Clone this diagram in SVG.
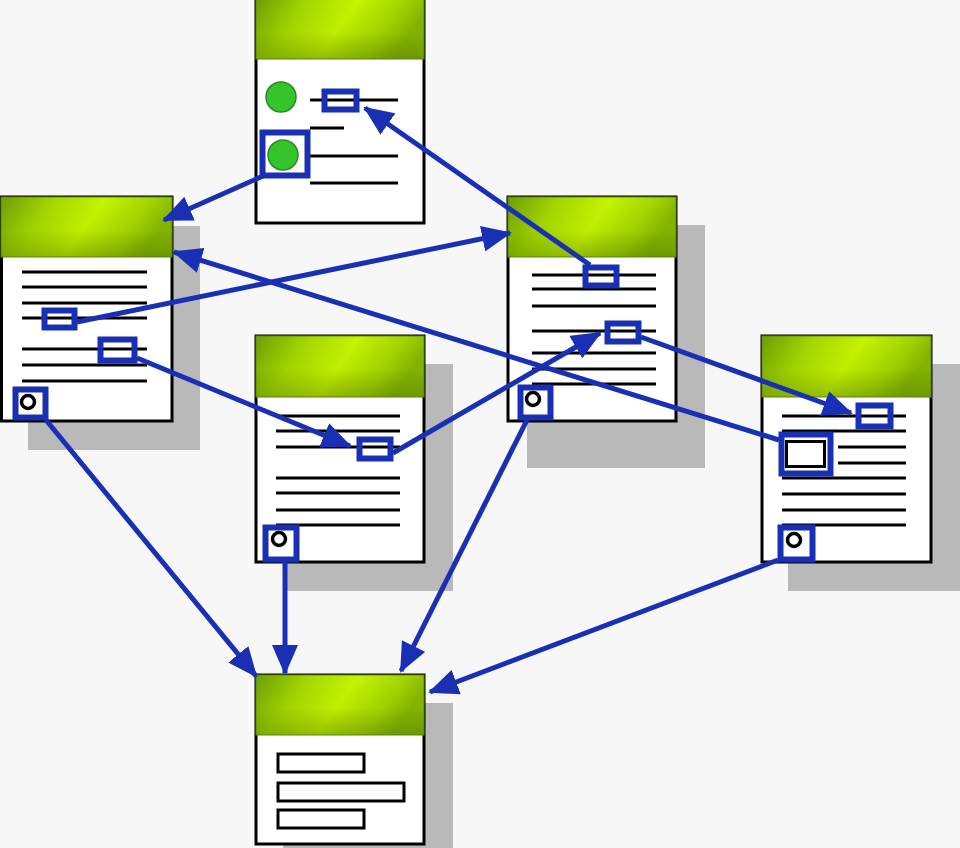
<svg xmlns="http://www.w3.org/2000/svg" width="960" height="848" viewBox="0 0 960 848">
<defs>
<linearGradient id="hdr" x1="0" y1="0" x2="1" y2="0.25">
<stop offset="0" stop-color="#6c9c06"/>
<stop offset="0.3" stop-color="#a4d800"/>
<stop offset="0.58" stop-color="#c6f400"/>
<stop offset="0.85" stop-color="#a2d400"/>
<stop offset="1" stop-color="#86b600"/>
</linearGradient>
<linearGradient id="shade" x1="0" y1="0" x2="0" y2="1">
<stop offset="0" stop-color="#4a6e00" stop-opacity="0"/>
<stop offset="0.55" stop-color="#4a6e00" stop-opacity="0.05"/>
<stop offset="1" stop-color="#4a6e00" stop-opacity="0.4"/>
</linearGradient>
<marker id="ah" viewBox="0 0 30 26" refX="28" refY="13" markerWidth="30" markerHeight="26" markerUnits="userSpaceOnUse" orient="auto">
<path d="M0,0 L30,13 L0,26 z" fill="#1a30b4"/>
</marker>
<g id="icon"><circle cx="0" cy="0" r="6.5" fill="#fff" stroke="#000" stroke-width="3.5"/></g>
</defs>
<style>
.shadow{fill:#b9b9b9}
.body{fill:#fff;stroke:#000;stroke-width:3}
.head{fill:url(#hdr);stroke:#5f8a10;stroke-width:1}
.shd{fill:url(#shade)}
.ln{stroke:#000;stroke-width:3;fill:none}
.port{fill:none;stroke:#1a30b4;stroke-width:6}
.sq{fill:#fff;stroke:#1a30b4;stroke-width:6}
.conn{stroke:#1a30b4;stroke-width:5;fill:none;marker-end:url(#ah)}
.dot{fill:#34c52c;stroke:#2a8a20;stroke-width:1.5}
</style>
<rect width="960" height="848" fill="#f7f7f7"/>

<g id="node-top">
<rect class="body" x="256" y="-4" width="168" height="227"/>
<rect class="head" x="256" y="-2" width="168" height="61"/>
<rect class="shd" x="256" y="-2" width="168" height="61"/>
<circle class="dot" cx="281" cy="97" r="15"/>
<path class="ln" d="M310,100H398M310,128H344M310,156H398M310,183H398"/>
<rect class="port" x="324.5" y="91.5" width="32" height="18"/>
<rect class="port" x="262.5" y="132.5" width="45" height="43"/>
<circle class="dot" cx="283" cy="155" r="15"/>
</g>

<g id="node-left">
<rect class="shadow" x="28" y="226" width="172" height="224"/>
<rect class="body" x="1.5" y="197" width="170.5" height="224"/>
<rect class="head" x="1" y="197" width="171" height="60"/>
<rect class="shd" x="1" y="197" width="171" height="60"/>
<path class="ln" d="M22,272H147M22,287H147M22,303H147M22,318H147M22,349H147M22,365H147M22,381H147"/>
<rect class="port" x="44.5" y="310.5" width="30" height="17"/>
<rect class="port" x="100.5" y="339.5" width="34" height="21"/>
<rect class="sq" x="15.5" y="389.5" width="30" height="28"/>
<use href="#icon" x="28" y="402"/>
</g>

<g id="node-mid">
<rect class="shadow" x="283" y="364" width="170" height="227"/>
<rect class="body" x="256" y="336" width="168" height="226"/>
<rect class="head" x="256" y="336" width="168" height="61"/>
<rect class="shd" x="256" y="336" width="168" height="61"/>
<path class="ln" d="M276,416H400M276,431H400M276,447H400M276,478H400M276,493H400M276,510H400M276,525H400"/>
<rect class="port" x="359.5" y="439.5" width="31" height="19"/>
<rect class="sq" x="265.5" y="527.5" width="31" height="32"/>
<use href="#icon" x="279" y="539"/>
</g>

<g id="node-rmid">
<rect class="shadow" x="527" y="225" width="178" height="243"/>
<rect class="body" x="508" y="197" width="168" height="224"/>
<rect class="head" x="508" y="197" width="168" height="60"/>
<rect class="shd" x="508" y="197" width="168" height="60"/>
<path class="ln" d="M532,275H656M532,289H656M532,306H656M532,331H656M532,353H656M532,369H656M532,384H656"/>
<rect class="port" x="585.5" y="267.5" width="31" height="18"/>
<rect class="port" x="607.5" y="323.5" width="31" height="18"/>
<rect class="sq" x="520.5" y="387.5" width="30" height="30"/>
<use href="#icon" x="533" y="399"/>
</g>

<g id="node-right">
<rect class="shadow" x="788" y="364" width="172" height="227"/>
<rect class="body" x="762" y="336" width="169" height="226"/>
<rect class="head" x="762" y="336" width="169" height="61"/>
<rect class="shd" x="762" y="336" width="169" height="61"/>
<path class="ln" d="M782,416H906M782,431H906M838,447H906M838,463H906M782,478H906M782,494H906M782,510H906M782,525H906"/>
<rect class="port" x="858.5" y="405.5" width="32" height="21"/>
<rect class="sq" x="781.5" y="434.5" width="49" height="39"/>
<rect x="786.5" y="441.5" width="38" height="25" fill="#fff" stroke="#000" stroke-width="3"/>
<rect class="sq" x="780.5" y="527.5" width="32" height="32"/>
<use href="#icon" x="794" y="540"/>
</g>

<g id="node-bottom">
<rect class="shadow" x="283" y="703" width="170" height="160"/>
<rect class="body" x="256" y="675" width="168" height="169"/>
<rect class="head" x="256" y="675" width="168" height="60"/>
<rect class="shd" x="256" y="675" width="168" height="60"/>
<rect x="278" y="754" width="86" height="18" fill="#fff" stroke="#000" stroke-width="3"/>
<rect x="278" y="783" width="126" height="18" fill="#fff" stroke="#000" stroke-width="3"/>
<rect x="278" y="810" width="86" height="18" fill="#fff" stroke="#000" stroke-width="3"/>
</g>

<g id="connectors">
<line class="conn" x1="263" y1="176" x2="164" y2="220"/>
<line class="conn" x1="590" y1="265" x2="365" y2="108"/>
<line class="conn" x1="77" y1="322" x2="510" y2="233"/>
<line class="conn" x1="779" y1="440" x2="174" y2="252"/>
<line class="conn" x1="137" y1="358" x2="350" y2="446"/>
<line class="conn" x1="393" y1="453" x2="600" y2="333"/>
<line class="conn" x1="641" y1="337" x2="851" y2="413"/>
<line class="conn" x1="46" y1="420" x2="256" y2="676"/>
<line class="conn" x1="285" y1="562" x2="285" y2="673"/>
<line class="conn" x1="527" y1="420" x2="401" y2="671"/>
<line class="conn" x1="778" y1="560" x2="430" y2="692"/>
</g>
</svg>
